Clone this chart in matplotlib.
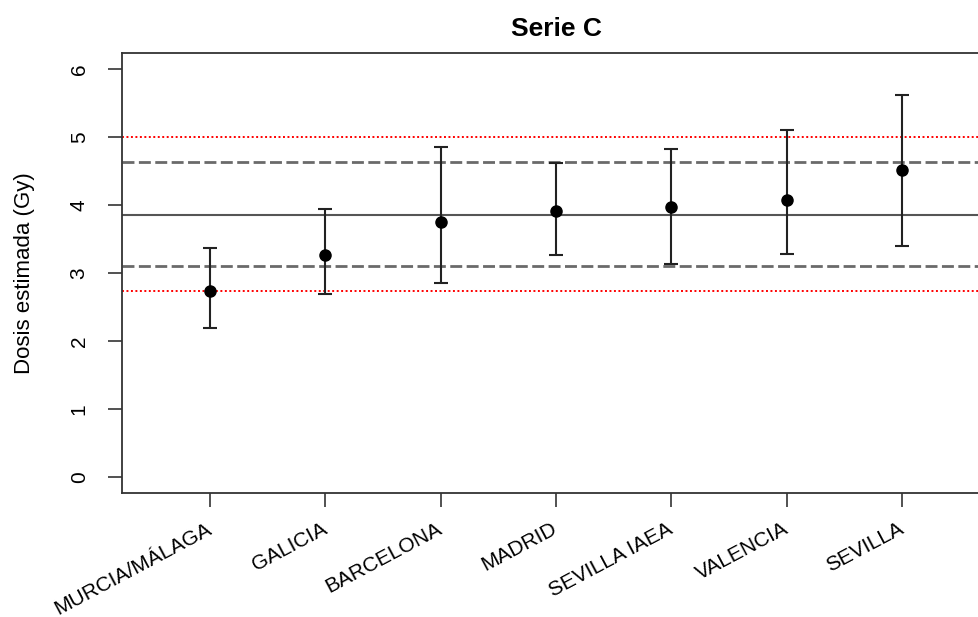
import matplotlib.pyplot as plt
from matplotlib.transforms import ScaledTranslation

# Datos: dosis estimada por laboratorio (Serie C)
laboratorios = ['MURCIA/MÁLAGA', 'GALICIA', 'BARCELONA', 'MADRID',
                'SEVILLA IAEA', 'VALENCIA', 'SEVILLA']
dosis = [2.73, 3.26, 3.75, 3.92, 3.97, 4.08, 4.52]
limite_inf = [2.19, 2.69, 2.86, 3.26, 3.13, 3.28, 3.40]
limite_sup = [3.37, 3.94, 4.85, 4.62, 4.83, 5.10, 5.62]

# Lineas de referencia
media = 3.86
banda_gris = [3.11, 4.63]
banda_roja = [2.74, 5.01]

plt.rcParams['font.family'] = ['Liberation Sans', 'DejaVu Sans']

fig = plt.figure(figsize=(9.79, 6.17), dpi=100)
ax = fig.add_axes([122 / 979, 124 / 617, (990 - 122) / 979, 440 / 617])

x = list(range(1, len(laboratorios) + 1))
err_inf = [d - l for d, l in zip(dosis, limite_inf)]
err_sup = [u - d for d, u in zip(dosis, limite_sup)]

ax.axhline(media, color='#555555', lw=1.5, zorder=1)
for v in banda_gris:
    ax.axhline(v, color='#6a6a6a', lw=2, ls=(0, (4.3, 1.6)), zorder=1)
for v in banda_roja:
    ax.axhline(v, color='red', lw=1.4, ls=(0, (1, 1.3)), zorder=1)

ax.errorbar(x, dosis, yerr=[err_inf, err_sup], fmt='o', color='black',
            ecolor='#222222', elinewidth=1.5, capsize=5, capthick=1.5,
            markersize=8, zorder=3)

ax.set_xlim(0.237, 7.763)
ax.set_ylim(-0.24, 6.24)
ax.set_yticks(range(0, 7))
ax.set_xticks(x)
ax.set_xticklabels(laboratorios, rotation=28, ha='right', va='center',
                   rotation_mode='anchor', fontsize=15)
desplaza = ScaledTranslation(9 / 100, 0, fig.dpi_scale_trans)
for lbl in ax.get_xticklabels():
    lbl.set_transform(lbl.get_transform() + desplaza)
for lbl in ax.get_yticklabels():
    lbl.set_rotation(90)
    lbl.set_va('center')
ax.tick_params(axis='y', labelsize=15, length=10, width=1.2, color='#333333', pad=14)
ax.tick_params(axis='x', length=10, width=1.2, color='#333333', pad=15)
for s in ax.spines.values():
    s.set_color('#333333')
    s.set_linewidth(1.3)

ax.set_ylabel('Dosis estimada (Gy)', fontsize=16, labelpad=25)
ax.set_title('Serie C', fontsize=19, fontweight='bold', pad=12)

fig.savefig('out.png', dpi=100)
